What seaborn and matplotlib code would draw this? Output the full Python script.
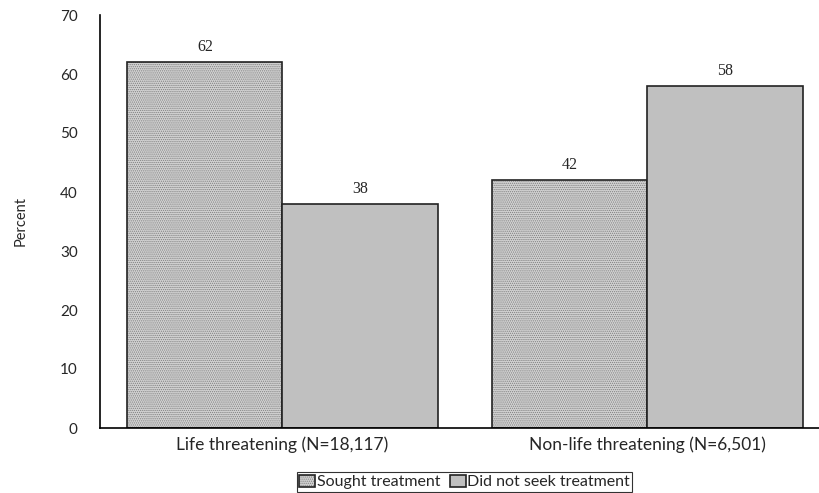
import numpy as np
import pandas as pd
import seaborn as sns
import matplotlib
import matplotlib.pyplot as plt

matplotlib.use('Agg')

# Chart data
categories = ['Life threatening (N=18,117)', 'Non-life threatening (N=6,501)']
series = ['Sought treatment', 'Did not seek treatment']
sought = [62, 42]
not_sought = [38, 58]

df = pd.DataFrame({
    'category': categories * 2,
    'series': [series[0]] * 2 + [series[1]] * 2,
    'percent': sought + not_sought,
})

sns.set_style('white')
plt.rcParams['font.family'] = ['Lato', 'DejaVu Sans']
plt.rcParams['hatch.linewidth'] = 0.6

figure = plt.figure(figsize=(8.19, 4.93), dpi=100)
axes = figure.add_axes([100 / 819, 1 - 428 / 493, 719 / 819, 413 / 493])

sns.barplot(data=df, x='category', y='percent', hue='series',
            palette=['#d2d2d2', '#c0c0c0'], width=0.85, gap=0,
            edgecolor='#222222', linewidth=1.2, saturation=1,
            ax=axes, legend=True)

# Fine dotted pattern on the first series
hatch_grey = (0.5, 0.5, 0.5, 1)
for bar in axes.containers[0]:
    bar.set_hatch('........')
    bar._hatch_color = hatch_grey

# Value labels above bars
for container in axes.containers:
    axes.bar_label(container, fmt='%d', padding=5, fontsize=11.5,
                   family='Liberation Serif')

axes.set_xlim(-0.5, 1.47)
axes.set_ylim(0, 70)
axes.set_yticks(np.arange(0, 71, 10))
axes.set_xlabel('')
axes.set_ylabel('Percent', fontsize=10.5)
axes.yaxis.set_label_coords(-72 / 719, 0.5)
axes.tick_params(axis='both', length=0, labelsize=11, pad=6)
axes.tick_params(axis='x', labelsize=12.5)
axes.tick_params(axis='y', pad=16)
for spine in ['top', 'right']:
    axes.spines[spine].set_visible(False)
for spine in ['left', 'bottom']:
    axes.spines[spine].set_color('black')
    axes.spines[spine].set_linewidth(1.2)

handles, labels = axes.get_legend_handles_labels()
legend = axes.legend(handles, labels, loc='center',
                     bbox_to_anchor=(464.5 / 819, 1 - 482 / 493),
                     bbox_transform=figure.transFigure, ncol=2, frameon=True,
                     fancybox=False, edgecolor='black', fontsize=11.5,
                     handlelength=1.0, handleheight=0.8, handletextpad=0.1,
                     columnspacing=0.6, borderpad=0.15, borderaxespad=0)
legend.get_frame().set_linewidth(0.8)
legend_handles = legend.legend_handles
legend_handles[0].set_hatch('........')
legend_handles[0]._hatch_color = hatch_grey

figure.savefig('out.png', dpi=100)
